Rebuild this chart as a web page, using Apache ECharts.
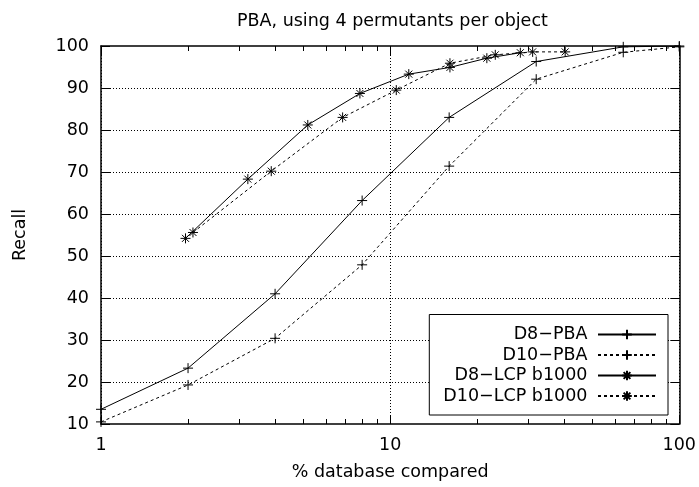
<!DOCTYPE html>
<html>
<head>
<meta charset="utf-8">
<script src="https://cdn.jsdelivr.net/npm/echarts@6/dist/echarts.min.js"></script>
<style>html,body{margin:0;padding:0;background:#fff;}#c{width:699px;height:487px;}</style>
</head>
<body>
<div id="c"></div>
<script>
var titleText = 'PBA, using 4 permutants per object';
var xName = '% database compared';
var yName = 'Recall';
var xLabelValues = [1, 10, 100];
var xMinorValues = [2, 3, 4, 5, 6, 7, 8, 9, 20, 30, 40, 50, 60, 70, 80, 90];
var seriesNames = ['D8\u2212PBA', 'D10\u2212PBA', 'D8\u2212LCP b1000', 'D10\u2212LCP b1000'];

var d8pbaX = [1, 2, 4, 8, 16, 32, 64, 100];
var d8pbaY = [13.5, 23.3, 41.0, 63.2, 83.0, 96.3, 99.8, 100];
var d10pbaX = [1, 2, 4, 8, 16, 32, 64, 100];
var d10pbaY = [10.5, 19.3, 30.4, 47.9, 71.4, 92.1, 98.5, 99.8];
var d8lcpX = [1.96, 3.22, 5.19, 7.86, 11.6, 16.1, 21.6, 28.2];
var d8lcpY = [54.2, 68.3, 81.2, 88.7, 93.3, 94.9, 97.1, 98.4];
var d10lcpX = [2.08, 3.88, 6.85, 10.5, 16.1, 23.1, 31.1, 40.3];
var d10lcpY = [55.6, 70.2, 83.0, 89.5, 95.9, 97.9, 98.6, 98.6];

function pairs(xs, ys) { return xs.map(function (x, i) { return [x, ys[i]]; }); }

var FONT = 'DejaVu Sans';
var FS = 17.5;
var plusSym = 'path://M0,5L10,5M5,0L5,10';
var starSym = 'path://M5,0L5,10M0,5L10,5M1.5,1.5L8.5,8.5M1.5,8.5L8.5,1.5';
var dash = [3, 3];

function mkSeries(name, data, sym, dashed) {
  return {
    name: name, type: 'line', data: data,
    xAxisIndex: 0, yAxisIndex: 0,
    symbol: sym, symbolSize: 10,
    showSymbol: true,
    lineStyle: { color: '#000', width: 1, type: dashed ? dash : 'solid' },
    itemStyle: { color: '#000', borderColor: '#000', borderWidth: 1 },
    emphasis: { disabled: true },
    animation: false
  };
}

var axisLineStyle = { show: true, lineStyle: { color: '#000', width: 1.5 } };
var gridDot = { show: true, lineStyle: { color: '#000', width: 1, type: [1, 2] } };

function xAx(pos, opts) {
  var a = {
    type: 'log', logBase: 10, min: 1, max: 100, position: pos, gridIndex: 0,
    axisLine: axisLineStyle,
    axisTick: { show: false },
    axisLabel: { show: false },
    splitLine: { show: false },
    minorTick: { show: false }, minorSplitLine: { show: false }
  };
  for (var k in opts) a[k] = opts[k];
  return a;
}
function yAx(pos, opts) {
  var a = {
    type: 'value', min: 10, max: 100, interval: 10, position: pos, gridIndex: 0,
    axisLine: axisLineStyle,
    axisTick: { show: true, inside: true, length: 9, lineStyle: { color: '#000', width: 1 } },
    axisLabel: { show: false },
    splitLine: { show: false }
  };
  for (var k in opts) a[k] = opts[k];
  return a;
}

var chart = echarts.init(document.getElementById('c'), null, { renderer: 'canvas' });
chart.setOption({
  animation: false,
  backgroundColor: '#fff',
  textStyle: { fontFamily: FONT },
  title: {
    text: titleText, left: 232, top: 7,
    textStyle: { fontFamily: FONT, fontSize: FS, fontWeight: 'normal', color: '#000' }
  },
  grid: { left: 101, right: 19, top: 46, bottom: 63, containLabel: false },
  legend: {
    orient: 'vertical', align: 'right',
    right: 31, bottom: 72,
    padding: [11, 11, 10, 14],
    borderColor: '#000', borderWidth: 1, backgroundColor: '#fff',
    itemWidth: 58, itemHeight: 12, itemGap: 2.5,
    textStyle: { fontFamily: FONT, fontSize: FS, color: '#000' },
    formatter: function (n) { return n + ' '; },
    data: seriesNames
  },
  xAxis: [
    xAx('bottom', {
      name: xName, nameLocation: 'middle', nameGap: 39,
      nameTextStyle: { fontFamily: FONT, fontSize: FS, color: '#000' },
      axisTick: { show: true, inside: true, length: 9, customValues: xLabelValues, lineStyle: { color: '#000', width: 1 } },
      axisLabel: { show: true, customValues: xLabelValues, margin: 12, showMinLabel: true, showMaxLabel: true, hideOverlap: false,
        fontFamily: FONT, fontSize: FS, color: '#000', formatter: function (v) { return String(v); } },
      splitLine: gridDot
    }),
    xAx('bottom', {
      axisLine: { show: false },
      axisTick: { show: true, inside: true, length: 5, customValues: xMinorValues, lineStyle: { color: '#000', width: 1 } }
    }),
    xAx('top', {
      axisTick: { show: true, inside: true, length: 9, customValues: xLabelValues, lineStyle: { color: '#000', width: 1 } }
    }),
    xAx('top', {
      axisLine: { show: false },
      axisTick: { show: true, inside: true, length: 5, customValues: xMinorValues, lineStyle: { color: '#000', width: 1 } }
    })
  ],
  yAxis: [
    yAx('left', {
      name: yName, nameLocation: 'middle', nameGap: 72,
      nameTextStyle: { fontFamily: FONT, fontSize: FS, color: '#000' },
      axisLabel: { show: true, margin: 12, fontFamily: FONT, fontSize: FS, color: '#000' },
      splitLine: { show: true, showMinLine: false, showMaxLine: false, lineStyle: { color: '#000', width: 1, type: [1, 2] } }
    }),
    yAx('right', {})
  ],
  series: [
    mkSeries(seriesNames[0], pairs(d8pbaX, d8pbaY), plusSym, false),
    mkSeries(seriesNames[1], pairs(d10pbaX, d10pbaY), plusSym, true),
    mkSeries(seriesNames[2], pairs(d8lcpX, d8lcpY), starSym, false),
    mkSeries(seriesNames[3], pairs(d10lcpX, d10lcpY), starSym, true)
  ]
});
</script>
</body>
</html>
